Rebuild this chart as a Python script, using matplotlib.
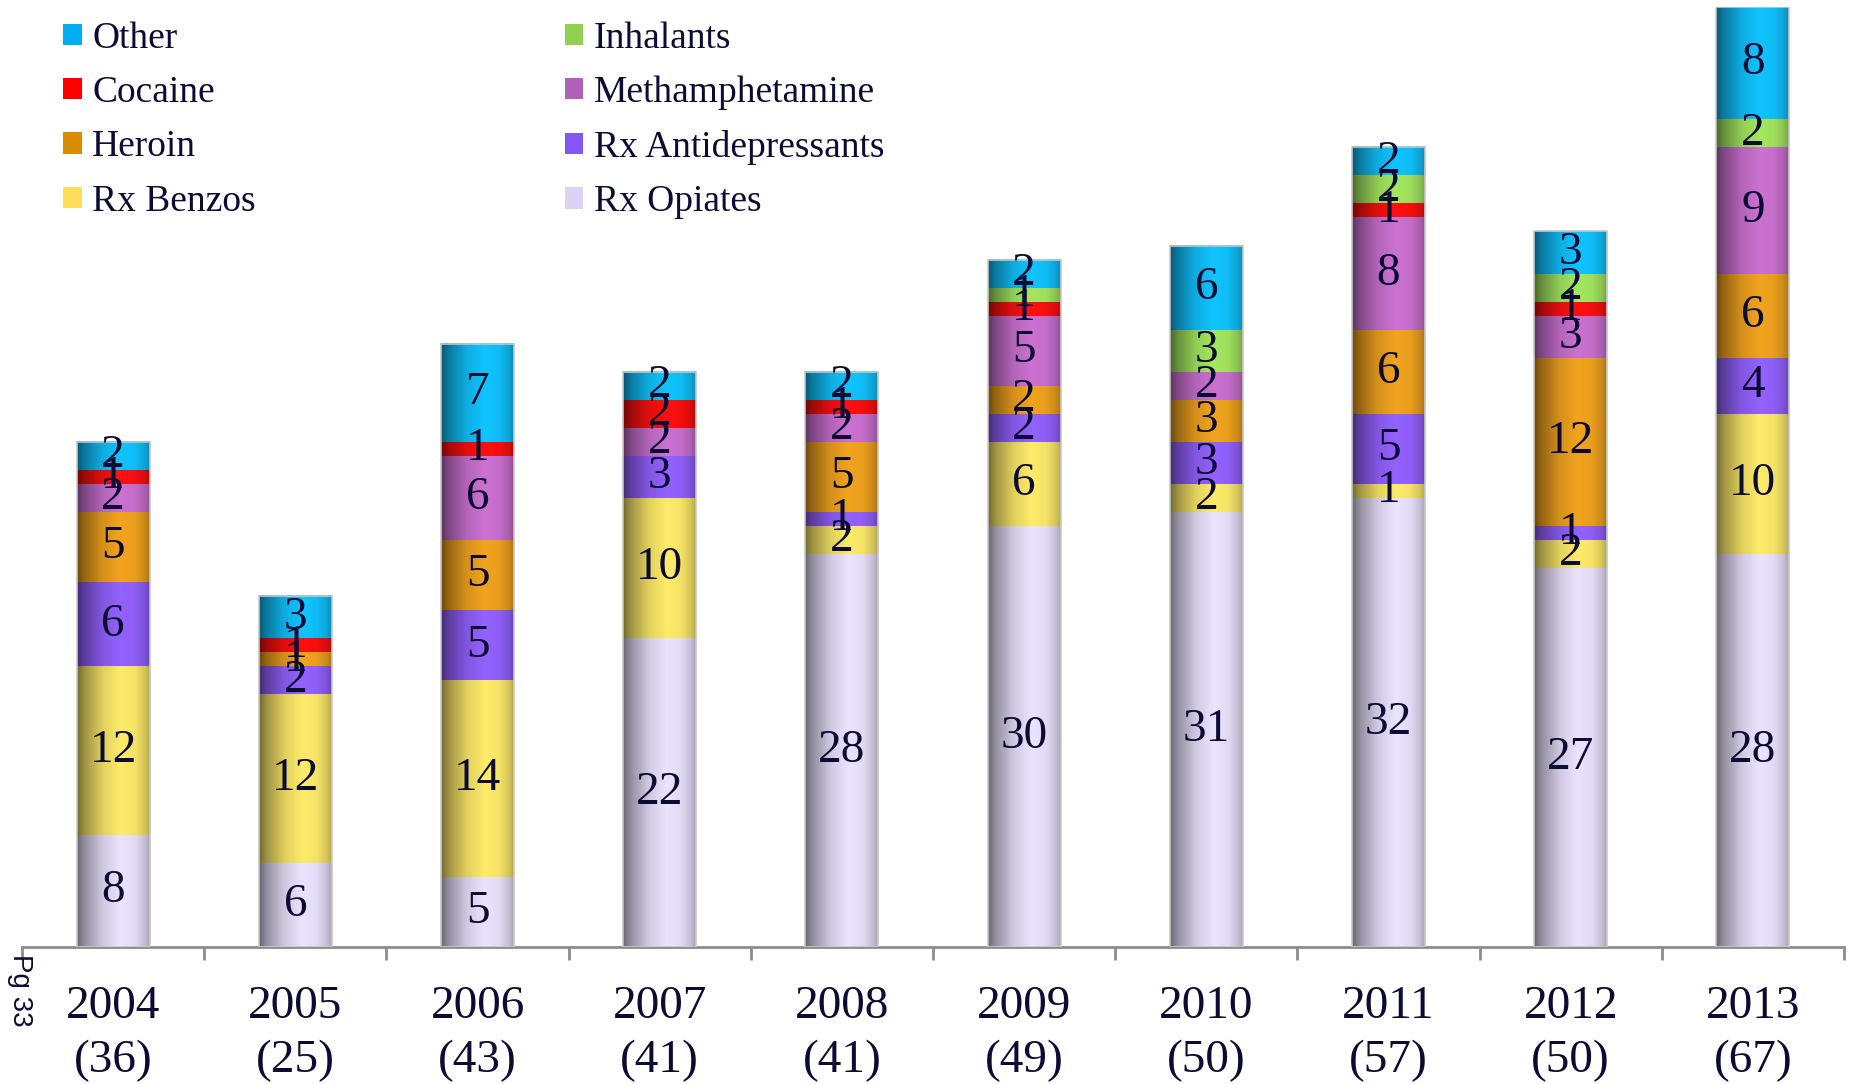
import numpy as np
import matplotlib.pyplot as plt
from matplotlib.colors import to_rgb
from matplotlib.patches import Patch

years = ['2004', '2005', '2006', '2007', '2008', '2009', '2010', '2011', '2012', '2013']
totals = ['36', '25', '43', '41', '41', '49', '50', '57', '50', '67']

# stacked bottom -> top
rx_opiates = [8, 6, 5, 22, 28, 30, 31, 32, 27, 28]
rx_benzos = [12, 12, 14, 10, 2, 6, 2, 1, 2, 10]
rx_antidep = [6, 2, 5, 3, 1, 2, 3, 5, 1, 4]
heroin = [5, 1, 5, 0, 5, 2, 3, 6, 12, 6]
meth = [2, 0, 6, 2, 2, 5, 2, 8, 3, 9]
cocaine = [1, 1, 1, 2, 1, 1, 0, 1, 1, 0]
inhalants = [0, 0, 0, 0, 0, 1, 3, 2, 2, 2]
other = [2, 3, 7, 2, 2, 2, 6, 2, 3, 8]

series = [
    ('Rx Opiates', rx_opiates, '#ece4ff', '#dcd2f8'),
    ('Rx Benzos', rx_benzos, '#ffec6a', '#ffdc5a'),
    ('Rx Antidepressants', rx_antidep, '#9462ff', '#8457f5'),
    ('Heroin', heroin, '#f2a41e', '#d98c00'),
    ('Methamphetamine', meth, '#cc72d2', '#b060b8'),
    ('Cocaine', cocaine, '#ff1010', '#ff0000'),
    ('Inhalants', inhalants, '#a4e860', '#92d050'),
    ('Other', other, '#10c4ff', '#00aeef'),
]

txt_col = '#0b0b33'
serif = ['Liberation Serif', 'DejaVu Serif']

fig = plt.figure(figsize=(18.51, 10.84), dpi=100)
ax = fig.add_axes([22 / 1851, 137 / 1084, (1844 - 22) / 1851, (947 - 7) / 1084])

x = np.arange(len(years))
width = 0.4

# cylinder shading profile across a bar
t = np.linspace(0, 1, 120)
shade = np.interp(t, [0, 0.1, 0.35, 0.6, 0.8, 0.93, 1.0], [0.45, 0.62, 0.88, 1.0, 0.96, 0.84, 0.72])

bottom = np.zeros(len(years))
for name, vals, col, lcol in series:
    vals = np.array(vals, dtype=float)
    bars = ax.bar(x, vals, width, bottom=bottom, color=col, edgecolor='none', zorder=2)
    rgb = np.array(to_rgb(col))
    img = np.clip(rgb[None, None, :] * shade[None, :, None], 0, 1)
    for b, v in zip(bars, vals):
        if v <= 0:
            continue
        x0, y0 = b.get_x(), b.get_y()
        ax.imshow(img, extent=(x0, x0 + b.get_width(), y0, y0 + b.get_height()),
                  aspect='auto', interpolation='bilinear', zorder=3)
        ax.text(x0 + b.get_width() / 2, y0 + b.get_height() / 2, f'{int(v)}',
                ha='center', va='center', fontsize=34, color=txt_col,
                family=serif, zorder=5)
    bottom += vals

# thin outline around each column
for xi, h in zip(x, bottom):
    ax.add_patch(plt.Rectangle((xi - width / 2, 0), width, h, fill=False,
                               edgecolor='#c8c8c8', lw=1.2, zorder=4))

ax.set_xlim(-0.5, len(years) - 0.5)
ax.set_ylim(0, 67)

for s in ['top', 'right', 'left']:
    ax.spines[s].set_visible(False)
ax.spines['bottom'].set_color('#8c8c8c')
ax.spines['bottom'].set_linewidth(2)
ax.set_yticks([])

ax.set_xticks(x)
ax.set_xticklabels([f'{y}\n({n})' for y, n in zip(years, totals)],
                   family=serif, fontsize=34, color=txt_col, linespacing=1.35)
ax.tick_params(axis='x', which='major', length=0, pad=28)
ax.set_xticks(np.arange(-0.5, len(years)), minor=True)
ax.tick_params(axis='x', which='minor', length=9, width=2, color='#8c8c8c')

handles = {name: Patch(facecolor=lcol, edgecolor='none') for name, _, _, lcol in series}
order = ['Other', 'Cocaine', 'Heroin', 'Rx Benzos',
         'Inhalants', 'Methamphetamine', 'Rx Antidepressants', 'Rx Opiates']
leg = fig.legend([handles[k] for k in order], order, loc='upper left',
                 bbox_to_anchor=(63 / 1851, 1 - 21 / 1084), ncol=2, frameon=False,
                 prop={'family': serif, 'size': 27}, labelcolor=txt_col,
                 handlelength=0.5, handleheight=0.5, handletextpad=0.28,
                 labelspacing=0.53, columnspacing=8.23, borderpad=0, borderaxespad=0)

fig.text(20 / 1851, 1 - 954 / 1084, 'Pg 33', rotation=270, ha='center', va='top',
         fontsize=20, color=txt_col, family=['Liberation Sans', 'DejaVu Sans'])

fig.savefig('out.png', dpi=100)
